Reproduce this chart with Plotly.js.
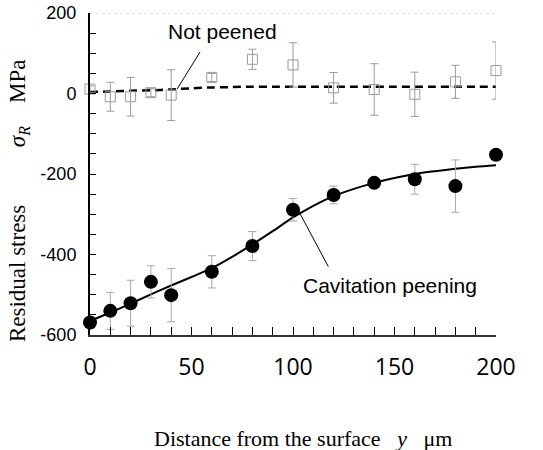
<!DOCTYPE html>
<html>
<head>
<meta charset="utf-8">
<script src="https://cdn.plot.ly/plotly-3.0.1.min.js"></script>
<style>html,body{margin:0;padding:0;background:#fff;}#chart{width:543px;height:450px;}</style>
</head>
<body>
<div id="chart"></div>
<script>
// Measured depths (µm)
const depth = [0, 10, 20, 30, 40, 60, 80, 100, 120, 140, 160, 180, 200];
// Not peened: residual stress (MPa) and error
const notPeened = [11, -8, -8, 2, -4, 40, 85, 71, 14, 10, -2, 29, 57];
const notPeenedErr = [8, 36, 48, 10, 63, 10, 25, 55, 38, 64, 55, 41, 71];
// Cavitation peening: residual stress (MPa) and error
const cavPeened = [-569, -540, -521, -468, -501, -443, -379, -289, -252, -222, -213, -230, -152];
const cavPeenedErr = [15, 46, 57, 40, 66, 40, 36, 28, 22, 12, 37, 65, 12];
// Fitted curves
const fitDepth = [0, 10, 20, 30, 40, 50, 60, 70, 80, 90, 100, 110, 120, 130, 140, 150, 160, 170, 180, 190, 200];
const fitNotPeened = [4, 5, 7, 8, 10, 13, 15, 16, 17, 17, 17, 17, 17, 17, 17, 17, 17, 17, 17, 17, 17];
const fitCav = [-565, -544, -522, -499, -477, -456, -434, -406, -375, -342, -308, -279, -255, -237, -222, -210, -200, -193, -187, -182, -178];
// Tick labels
const xTickVals = [0, 50, 100, 150, 200];
const xTickText = ['0', '50', '100', '150', '200'];
const yTickVals = [-600, -400, -200, 0, 200];
const yTickText = ['-600', '-400', '-200', '0', '200'];

const sans = '"Liberation Sans", Arial, sans-serif';
const serif = '"Liberation Serif", "Times New Roman", serif';
const nb = '\u00a0';

const traces = [
  {x: fitDepth, y: fitNotPeened, mode: 'lines', line: {color: '#000', width: 2.5, dash: '8px,5px', shape: 'spline', smoothing: 0.8}, cliponaxis: false, hoverinfo: 'skip'},
  {x: fitDepth, y: fitCav, mode: 'lines', line: {color: '#000', width: 2, shape: 'spline', smoothing: 0.8}, cliponaxis: false, hoverinfo: 'skip'},
  {x: depth, y: notPeened, mode: 'markers', cliponaxis: false,
   marker: {symbol: 'square-open', size: 10, color: '#9a9a9a', line: {width: 1, color: '#9a9a9a'}},
   error_y: {type: 'data', array: notPeenedErr, visible: true, color: '#9a9a9a', thickness: 1, width: 4}},
  {x: depth, y: cavPeened, mode: 'markers', cliponaxis: false,
   marker: {symbol: 'circle', size: 14, color: '#000'},
   error_y: {type: 'data', array: cavPeenedErr, visible: true, color: '#a8a8a8', thickness: 1, width: 4}}
];

const layout = {
  width: 543, height: 450,
  margin: {l: 90, r: 47, t: 13, b: 115},
  paper_bgcolor: '#fff', plot_bgcolor: '#fff',
  showlegend: false,
  xaxis: {
    range: [0, 200], tickmode: 'array', tickvals: xTickVals, ticktext: xTickText,
    ticks: 'inside', ticklen: 8, tickwidth: 1, tickcolor: '#000',
    minor: {tickmode: 'linear', tick0: 0, dtick: 10, ticks: 'inside', ticklen: 8, tickwidth: 1, tickcolor: '#000'},
    showline: true, linecolor: '#333', linewidth: 2, showgrid: false, zeroline: false,
    tickfont: {family: '"Open Sans", sans-serif', size: 23, color: '#000'},
    ticklabelstandoff: 10
  },
  yaxis: {
    range: [-600, 200], tickmode: 'array', tickvals: yTickVals, ticktext: yTickText,
    ticks: 'inside', ticklen: 6, tickwidth: 1, tickcolor: '#000',
    minor: {tickmode: 'linear', tick0: -600, dtick: 50, ticks: 'inside', ticklen: 6, tickwidth: 1, tickcolor: '#000'},
    showline: true, linecolor: '#000', linewidth: 2, showgrid: false, zeroline: false,
    tickfont: {family: sans, size: 18, color: '#000'},
    ticklabelstandoff: 8
  },
  shapes: [
    {type: 'line', xref: 'x', yref: 'y', x0: 0, x1: 200, y0: 200, y1: 200, line: {color: '#c8c8c8', width: 1, dash: 'dot'}},
    {type: 'line', xref: 'x', yref: 'y', x0: 42.9, y0: 11, x1: 54.2, y1: 103, line: {color: '#000', width: 1}},
    {type: 'line', xref: 'x', yref: 'y', x0: 102.3, y0: -287.6, x1: 117.4, y1: -430, line: {color: '#000', width: 1}}
  ],
  annotations: [
    {x: 65.5, y: 155, xref: 'x', yref: 'y', showarrow: false, text: 'Not peened', font: {family: sans, size: 21, color: '#000'}},
    {x: 148, y: -476, xref: 'x', yref: 'y', showarrow: false, text: 'Cavitation peening', font: {family: sans, size: 21, color: '#000'}},
    {x: 0.5246, y: -0.32, xref: 'paper', yref: 'paper', xanchor: 'center', yanchor: 'middle', showarrow: false,
     text: 'Distance from the surface' + nb.repeat(3) + '<i>y</i>' + nb.repeat(3) + 'μm', font: {family: serif, size: 22, color: '#000'}},
    {x: -0.1749, y: 0.419, xref: 'paper', yref: 'paper', xanchor: 'center', yanchor: 'middle', showarrow: false, textangle: -90,
     text: 'Residual stress' + nb.repeat(10) + '<i>σ<sub>R</sub></i>' + nb.repeat(4) + 'MPa', font: {family: serif, size: 23, color: '#000'}}
  ]
};

Plotly.newPlot('chart', traces, layout, {staticPlot: true, displayModeBar: false});
</script>
</body>
</html>
